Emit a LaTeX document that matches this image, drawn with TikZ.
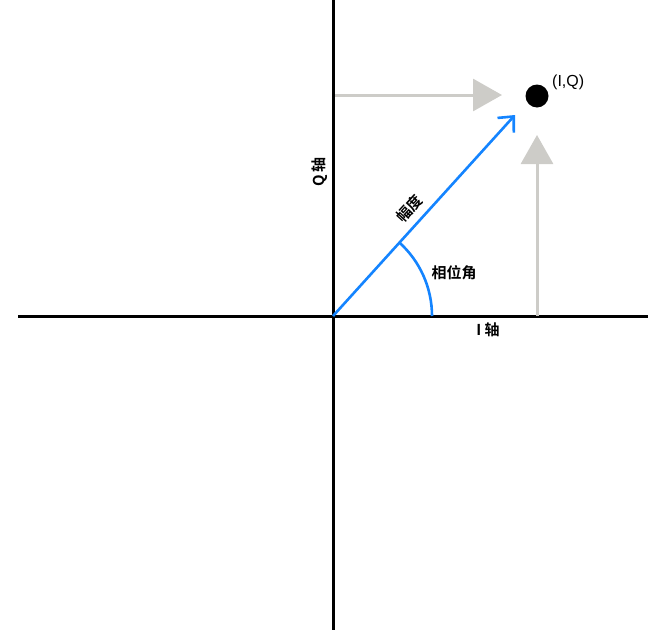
\documentclass[tikz,border=0pt]{standalone}
\usepackage{fontspec}
\setmainfont{Liberation Sans}
\newfontfamily\cjk{Noto Sans CJK SC}[BoldFont={Noto Sans CJK SC Bold}]
\usetikzlibrary{arrows.meta}
\definecolor{vblue}{RGB}{20,132,255}
\definecolor{vgray}{RGB}{205,204,200}
\tikzset{
  axis/.style={line width=3pt,black},
  proj/.style={line width=3pt,vgray,-{Triangle[length=29pt,width=32pt]}},
  vec/.style={line width=2.6pt,vblue,-{Straight Barb[length=12pt,width=22pt,line width=2.6pt]}},
  lab/.style={font=\cjk\bfseries\fontsize{15}{16}\selectfont,inner sep=0pt},
}
\begin{document}
\begin{tikzpicture}[x=1pt,y=-1pt]
\useasboundingbox (0,0) rectangle (651,635);
\coordinate (O) at (333,316);
\coordinate (L) at (18,316);
\coordinate (R) at (648,316);
\coordinate (T) at (333,0);
\coordinate (B) at (333,630);
\draw[axis] (L) -- (R);
\draw[axis] (T) -- (B);
\node[circle,fill=black,minimum size=23pt,inner sep=0pt] (P) at (537,96) {};
\coordinate (hs) at (335,95);
\coordinate (ht) at (502,95);
\coordinate (vs) at (537,316);
\coordinate (vt) at (537,135);
\draw[proj] (hs) -- (ht);
\draw[proj] (vs) -- (vt);
\coordinate (tip) at (515,115);
\draw[vec] (O) -- (tip);
\draw[vblue,line width=2.6pt] (432,316) arc[start angle=0,end angle=-47.8,radius=99];
\node[font=\fontsize{16}{18}\selectfont,anchor=west,inner sep=0pt] (iq) at (552,82) {(I,Q)};
\node[lab] (phase) at (454,273) {相位角};
\node[lab,rotate=47.8] (amp) at (409,209) {幅度};
\node[lab] (iaxis) at (488,330) {I 轴};
\node[lab,rotate=90] (qaxis) at (320,172) {Q 轴};
\end{tikzpicture}
\end{document}
